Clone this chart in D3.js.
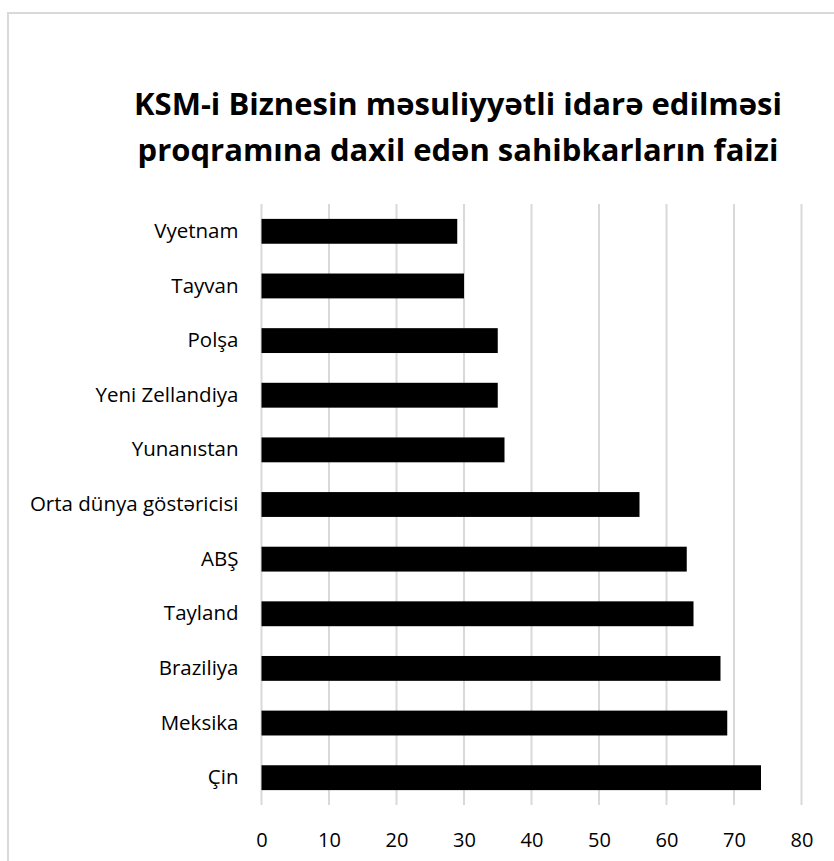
<!DOCTYPE html>
<html>
<head>
<meta charset="utf-8">
<script src="https://cdn.jsdelivr.net/npm/d3@7"></script>
<style>
  body { margin: 0; background: #fff; }
  text { font-family: "Open Sans", "Noto Sans", sans-serif; fill: #000; }
</style>
</head>
<body>
<div class="chart"></div>
<script>
var svgWidth = 834;
var svgHeight = 861;

// data
var countries = ["Vyetnam", "Tayvan", "Polşa", "Yeni Zellandiya", "Yunanıstan",
  "Orta dünya göstəricisi", "ABŞ", "Tayland", "Braziliya", "Meksika", "Çin"];
var percents = [29, 30, 35, 35, 36, 56, 63, 64, 68, 69, 74];
var xTicks = [0, 10, 20, 30, 40, 50, 60, 70, 80];
var titleLines = ["KSM-i Biznesin məsuliyyətli idarə edilməsi",
  "proqramına daxil edən sahibkarların faizi"];

var plot = { left: 261.5, right: 801.5, top: 204, bottom: 805 };

var svg = d3.select(".chart")
  .append("svg")
  .attr("width", svgWidth)
  .attr("height", svgHeight);

// chart frame (runs off the right and bottom edge)
svg.append("rect")
  .attr("x", 8)
  .attr("y", 13)
  .attr("width", 960)
  .attr("height", 900)
  .attr("fill", "#fff")
  .attr("stroke", "#d9d9d9")
  .attr("stroke-width", 2);

// title
svg.append("text")
  .attr("x", 458)
  .attr("y", 115)
  .attr("text-anchor", "middle")
  .style("font-size", "31px")
  .style("font-weight", "700")
  .selectAll("tspan")
  .data(titleLines)
  .enter()
  .append("tspan")
  .attr("x", 458)
  .attr("dy", (d, i) => i === 0 ? 0 : 46)
  .text(d => d);

// scales
var xScale = d3.scaleLinear()
  .domain([0, 80])
  .range([plot.left, plot.right]);

var yScale = d3.scaleBand()
  .domain(countries)
  .range([plot.top, plot.bottom])
  .paddingInner(0.545)
  .paddingOuter(0.2725);

// gridlines
svg.append("g")
  .selectAll("line")
  .data(xTicks)
  .enter()
  .append("line")
  .attr("x1", d => xScale(d))
  .attr("x2", d => xScale(d))
  .attr("y1", plot.top)
  .attr("y2", plot.bottom)
  .attr("stroke", "#d9d9d9")
  .attr("stroke-width", 2);

// bars
svg.append("g")
  .selectAll("rect")
  .data(percents)
  .enter()
  .append("rect")
  .attr("x", xScale(0))
  .attr("y", (d, i) => yScale(countries[i]))
  .attr("width", d => xScale(d) - xScale(0))
  .attr("height", yScale.bandwidth())
  .attr("fill", "#000");

// x axis
var xAxis = d3.axisBottom(xScale)
  .tickValues(xTicks)
  .tickSize(0)
  .tickPadding(28);

var gx = svg.append("g")
  .attr("transform", `translate(0, ${plot.bottom})`)
  .call(xAxis);
gx.select(".domain").remove();
gx.selectAll("text")
  .style("font-size", "20px")
  .style("font-family", "\"Open Sans\", sans-serif");

// y axis
var yAxis = d3.axisLeft(yScale)
  .tickSize(0)
  .tickPadding(23);

var gy = svg.append("g")
  .attr("transform", `translate(${plot.left}, 0)`)
  .call(yAxis);
gy.select(".domain").remove();
gy.selectAll("text")
  .style("font-size", "20.5px")
  .style("font-family", "\"Open Sans\", sans-serif");
</script>
</body>
</html>
